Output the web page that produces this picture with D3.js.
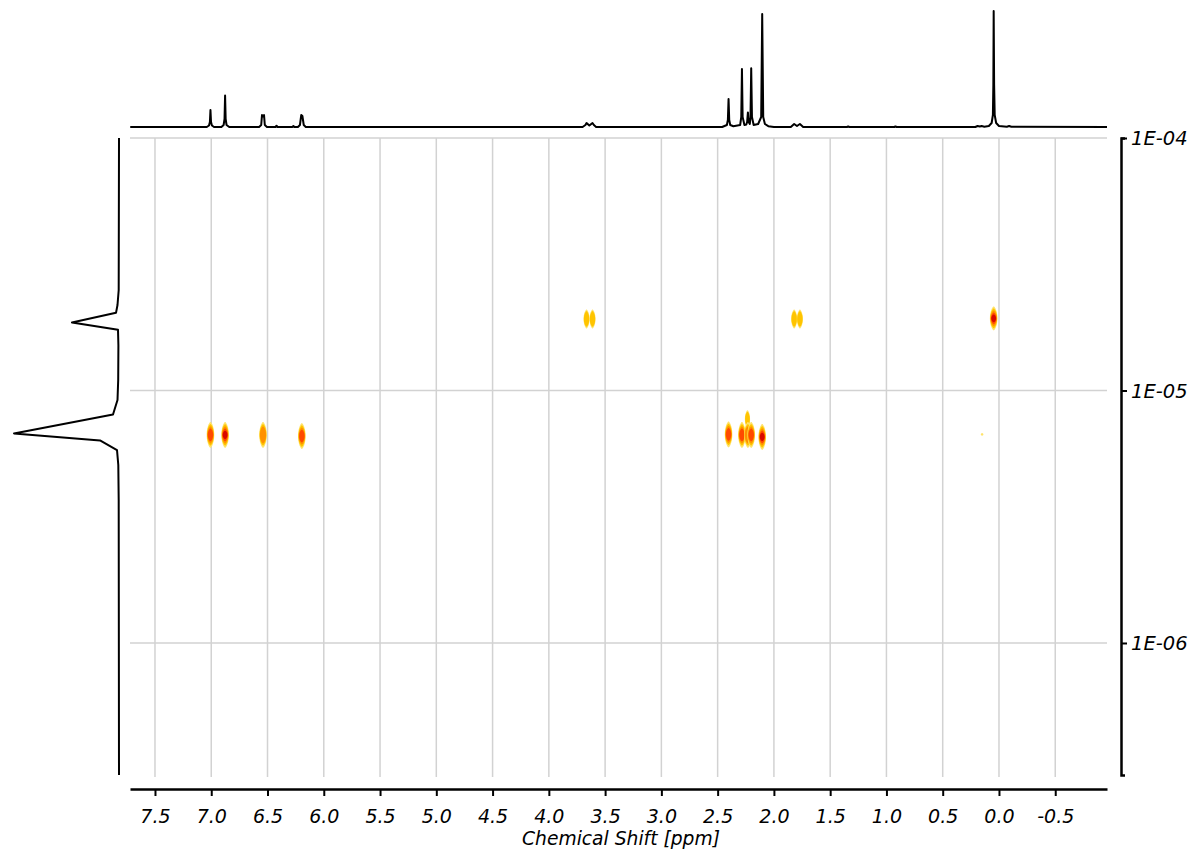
<!DOCTYPE html>
<html><head><meta charset="utf-8">
<script src="https://cdn.jsdelivr.net/npm/d3@7"></script>
<style>
body{margin:0;background:#fff;}
svg{display:block;}
text{font-family:"DejaVu Sans",sans-serif;font-style:italic;fill:#000;}
</style>
</head><body><svg id="c" width="1190" height="849"></svg>
<script>
// ---------------- data ----------------
const xTicks = [7.5, 7.0, 6.5, 6.0, 5.5, 5.0, 4.5, 4.0, 3.5, 3.0, 2.5, 2.0, 1.5, 1.0, 0.5, 0.0, -0.5];
const xTickLabels = ["7.5","7.0","6.5","6.0","5.5","5.0","4.5","4.0","3.5","3.0","2.5","2.0","1.5","1.0","0.5","0.0","-0.5"];
const xMinorTicks = [7.25, 6.75, 6.25, 5.75, 5.25, 4.75, 4.25, 3.75, 3.25, 2.75, 2.25, 1.75, 1.25, 0.75, 0.25, -0.25, -0.75];
const yTicks = [1e-4, 1e-5, 1e-6];
const yTickLabels = ["1E-04", "1E-05", "1E-06"];
const yMinorTicks = [3e-7,4e-7,5e-7,6e-7,7e-7,8e-7,9e-7,2e-6,3e-6,4e-6,5e-6,6e-6,7e-6,8e-6,9e-6,2e-5,3e-5,4e-5,5e-5,6e-5,7e-5,8e-5,9e-5];

// 1D 1H spectrum trace (ppm, intensity)
const specShift = [7.72, 7.04,7.02,7.012,7.007,7.002,6.994,6.975,
  6.91,6.89,6.882,6.877,6.872,6.864,6.84,
  6.575,6.556,6.549,6.54,6.531,6.524,6.505,
  6.43,6.42,6.41, 6.28,6.27,6.26,
  6.23,6.212,6.2,6.19,6.178,6.16,
  3.70,3.675,3.665,3.64,3.612,3.60,3.58,
  2.46,2.418,2.409,2.403,2.397,2.388,2.36,2.30,2.29,2.284,2.278,2.262,2.245,2.238,2.231,2.225,2.214,2.208,2.2017,2.195,2.18,2.14,2.113,2.104,2.095,2.08,2.05,2.0,
  1.85,1.82,1.795,1.769,1.74,
  1.35,1.34,1.33, 0.93,0.92,0.91,
  0.21,0.19,0.17,0.154,0.13,
  0.09,0.065,0.054,0.05,0.047,0.043,0.038,0.025,0.0,
  -0.07,-0.09,-0.11, -0.96];
const specInt = [0, 0,1.5,5,17,5,1.5,0,
  0,2,8,31.5,8,2,0,
  0,2,12,10.5,12,2,0,
  0,1.2,0, 0,1,0,
  0,2,12,11,2,0,
  0,2,4,1.5,4,2,0,
  0,2,7,28,7,2,0.8,2,10,58,10,2,2.5,5,14.6,5,3,10,58.7,10,2,3,10,113,10,3,0.8,0,
  0,3,1,3,0,
  0,0.6,0, 0,0.6,0,
  0,1,0.5,1,0.3,
  1,4,12,42,116,42,12,4,1,
  0.3,1,0.2, 0];

// diffusion projection (D in m^2/s, intensity)
const projD   = [1e-4, 2.5e-5, 2.18e-5, 2.03e-5, 1.86e-5, 1.74e-5, 1.51e-5, 1.10e-5, 9.17e-6, 8.03e-6, 6.76e-6, 6.34e-6, 5.81e-6, 5.07e-6, 3.68e-6, 3.0e-7];
const projInt = [0, 0.3, 1.5, 3, 47, 1, 0.6, 0.8, 1.5, 6, 105, 19, 2, 0.7, 0.3, 0];

// 2D DOSY cross peaks
const peakShift = [7.007, 6.877, 6.54, 6.195, 2.403, 2.284, 2.235, 2.231, 2.2017, 2.104, 0.15, 3.665, 3.612, 1.82, 1.769, 0.047];
const peakD     = [6.67e-6, 6.67e-6, 6.67e-6, 6.6e-6, 6.7e-6, 6.67e-6, 7.7e-6, 6.67e-6, 6.67e-6, 6.55e-6, 6.7e-6, 1.92e-5, 1.92e-5, 1.92e-5, 1.92e-5, 1.93e-5];
const peakLevel = [4, 5, 3, 4, 4, 4, 2, 3, 4, 5, 1, 2, 2, 2, 2, 5];

// ---------------- layout ----------------
const svg = d3.select("#c");
const x = d3.scaleLinear().domain([7.722, -0.96]).range([130, 1107]);
const y = d3.scaleLog().domain([3.0e-7, 1e-4]).range([775, 138]);
const ySpec = d3.scaleLinear().domain([0, 116]).range([127, 11]);
const xProj = d3.scaleLinear().domain([0, 105]).range([119, 14]);

// grid
const grid = svg.append("g").attr("stroke", "#d2d2d2").attr("stroke-width", 1.5);
grid.selectAll("line.v").data(xTicks).join("line")
  .attr("x1", d => x(d)).attr("x2", d => x(d)).attr("y1", 138).attr("y2", 777);
grid.selectAll("line.h").data(yTicks).join("line")
  .attr("x1", 130).attr("x2", 1107).attr("y1", d => y(d)).attr("y2", d => y(d));

// 2D peaks (nested contour levels, lens shaped)
const levelColors = ["#ffe36a", "#ffc400", "#ff9000", "#ff4a00", "#d80800", "#a00000"];
const lens = (cx, cy, rx, ry) => {
  const pts = d3.range(0, 2 * Math.PI, Math.PI / 24).map(t => {
    const s = Math.sin(t);
    return [cx + rx * Math.sign(s) * Math.pow(Math.abs(s), 1.35), cy - ry * Math.cos(t)];
  });
  return d3.line().curve(d3.curveLinearClosed)(pts);
};
const pk = svg.append("g");
peakShift.forEach((s, i) => {
  const n = peakLevel[i];
  const cx = x(s), cy = y(peakD[i]);
  let rx, ry;
  if (n === 1) { rx = 1.3; ry = 1.3; }
  else if (peakD[i] > 1e-5) { rx = n >= 4 ? 3.8 : 3.0; ry = n >= 4 ? 12 : 9.5; }
  else { rx = n === 2 ? 2.6 : 3.8; ry = n === 2 ? 9 : 13; }
  for (let k = 0; k < n; k++) {
    const f = 1 - 0.17 * k;
    pk.append("path").attr("d", lens(cx, cy, rx * (0.45 + 0.55 * f), ry * f))
      .attr("fill", levelColors[k]);
  }
});

// top 1D spectrum
const line = d3.line().x((d, i) => x(specShift[i])).y((d, i) => ySpec(specInt[i]));
svg.append("path").datum(specShift).attr("d", line)
  .attr("fill", "none").attr("stroke", "#000").attr("stroke-width", 2).attr("stroke-linejoin", "round");

// left projection
const pline = d3.line().x((d, i) => xProj(projInt[i])).y((d, i) => y(projD[i]));
svg.append("path").datum(projD).attr("d", pline)
  .attr("fill", "none").attr("stroke", "#000").attr("stroke-width", 2).attr("stroke-linejoin", "round");

// bottom axis
const gx = svg.append("g").attr("transform", "translate(0,789)");
gx.call(d3.axisBottom(x).tickValues(xMinorTicks).tickSize(5).tickFormat("").tickSizeOuter(0));
gx.call(d3.axisBottom(x).tickValues(xTicks).tickSize(7).tickSizeOuter(0)
  .tickFormat((d, i) => xTickLabels[i]));
gx.selectAll(".domain").attr("stroke-width", 2.5).attr("stroke", "#000");
gx.selectAll(".tick line").attr("stroke-width", 2).attr("stroke", "#000");
gx.selectAll(".tick text").attr("y", 34).attr("dy", null)
  .style("font-size", "19px").style("font-family", "'DejaVu Sans',sans-serif").style("font-style", "italic").attr("fill", "#000");

svg.append("text").attr("x", 621).attr("y", 845).attr("text-anchor", "middle")
  .style("font-size", "18.7px").text("Chemical Shift [ppm]");

// right axis
const gy = svg.append("g").attr("transform", "translate(1121,0)");
gy.call(d3.axisRight(y).tickValues(yMinorTicks).tickSize(3).tickFormat("").tickSizeOuter(4));
gy.call(d3.axisRight(y).tickValues(yTicks).tickSize(6).tickSizeOuter(4)
  .tickFormat((d, i) => yTickLabels[i]));
gy.selectAll(".domain").attr("stroke-width", 2.5).attr("stroke", "#000");
gy.selectAll(".tick line").attr("stroke-width", 2).attr("stroke", "#000");
gy.selectAll(".tick text").attr("x", 10).attr("dy", "0.35em")
  .style("font-size", "19.5px").style("font-family", "'DejaVu Sans',sans-serif").style("font-style", "italic").attr("fill", "#000");
</script>
</body></html>
